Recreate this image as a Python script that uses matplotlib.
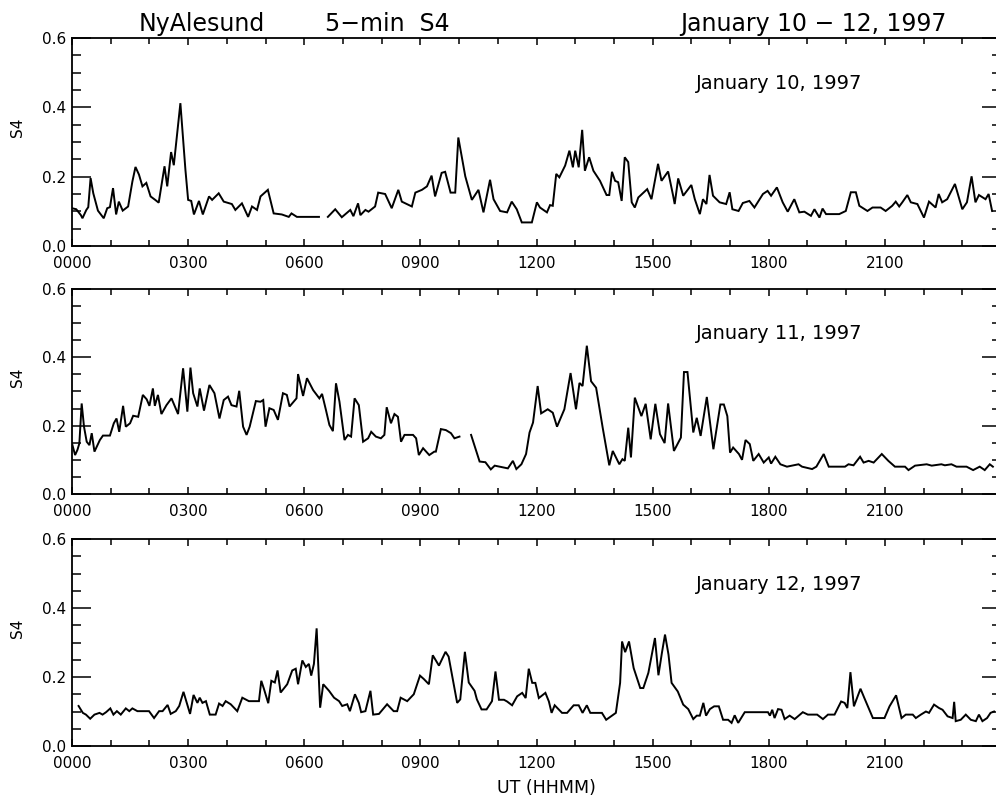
import numpy as np
import matplotlib
matplotlib.use('Agg')
import matplotlib.pyplot as plt
from matplotlib.ticker import MultipleLocator, FixedLocator

plt.rcParams['font.family'] = ['DejaVu Sans']

# UT hours and S4 values for each day (nan marks a data gap)
jan10_hours = [0.00, 0.11, 0.23, 0.27, 0.37, 0.42, 0.48, 0.55, 0.67, 0.82, 0.91, 0.98, 1.06, 1.14, 1.21, 1.31,
               1.45, 1.56, 1.64, 1.73, 1.82, 1.92, 2.03, 2.15, 2.24, 2.39, 2.46, 2.56, 2.63, 2.80, 2.93, 3.00,
               3.08, 3.15, 3.28, 3.38, 3.54, 3.62, 3.79, 3.92, 4.13, 4.22, 4.39, 4.55, 4.65, 4.78, 4.87, 5.06,
               5.21, 5.42, 5.60, 5.67, 5.81, 6.38, 6.50,
               6.61, 6.80, 6.97, 7.19, 7.27, 7.39, 7.45, 7.58, 7.66, 7.83, 7.91, 8.09, 8.26, 8.43, 8.52, 8.78,
               8.87, 9.04, 9.17, 9.29, 9.38, 9.55, 9.64, 9.78, 9.90, 9.98, 10.16, 10.33, 10.50, 10.63, 10.80,
               10.89, 11.06, 11.24, 11.36, 11.49, 11.62, 11.88, 12.01, 12.09, 12.27, 12.35, 12.42, 12.51, 12.59,
               12.74, 12.85, 12.94, 13.00, 13.09, 13.18, 13.25, 13.36, 13.47, 13.64, 13.81, 13.88, 13.95, 14.03,
               14.11, 14.20, 14.28, 14.37, 14.46, 14.54, 14.63, 14.86, 14.97, 15.14, 15.23, 15.40, 15.53, 15.57,
               15.66, 15.79, 16.00, 16.09, 16.22, 16.30, 16.39, 16.47, 16.56, 16.73, 16.90, 16.99, 17.06, 17.22,
               17.33, 17.50, 17.63, 17.85, 17.97, 18.06, 18.21, 18.36, 18.49, 18.66, 18.79, 18.92, 19.09, 19.18,
               19.31, 19.39, 19.48, 19.82, 19.99, 20.12, 20.25, 20.34, 20.55, 20.68, 20.89, 21.02, 21.19, 21.28,
               21.37, 21.45, 21.58, 21.67, 21.84, 22.01, 22.14, 22.31, 22.39, 22.48, 22.61, 22.81, 23.00, 23.12,
               23.24, 23.34, 23.43, 23.60, 23.68, 23.77]
jan10_s4 = [.109, .106, .089, .080, .104, .112, .196, .152, .102, .080, .109, .112, .167, .091, .128, .102,
            .114, .186, .228, .206, .172, .182, .143, .133, .125, .230, .172, .271, .233, .412, .220, .133,
            .130, .091, .130, .091, .143, .133, .152, .128, .121, .104, .123, .084, .114, .104, .143, .162,
            .094, .091, .084, .094, .084, .084, np.nan,
            .084, .106, .083, .104, .086, .123, .089, .104, .099, .114, .154, .150, .109, .162, .128, .114,
            .154, .162, .172, .203, .143, .211, .214, .154, .154, .313, .201, .133, .162, .097, .191,
            .135, .101, .097, .128, .106, .068, .068, .126, .111, .097, .118, .116, .208, .198,
            .232, .275, .227, .275, .227, .335, .217, .256, .217, .188, .147, .147, .214, .188,
            .184, .130, .256, .242, .126, .111, .140, .164, .135, .237, .188, .215, .145, .121,
            .195, .145, .176, .135, .092, .135, .121, .205, .145, .126, .121, .155, .106, .101,
            .124, .130, .111, .150, .159, .145, .169, .126, .099, .135, .097, .099, .087, .106,
            .082, .108, .092, .092, .101, .155, .155, .116, .101, .111, .111, .101, .116, .128,
            .114, .126, .147, .126, .121, .082, .128, .111, .150, .126, .135, .179, .106, .126,
            .201, .126, .147, .135, .150, .101]

jan11_hours = [0.00, 0.08, 0.14, 0.19, 0.25, 0.31, 0.38, 0.45, 0.51, 0.58, 0.72, 0.80, 0.98, 1.08, 1.15, 1.22,
               1.32, 1.39, 1.50, 1.58, 1.71, 1.83, 1.93, 2.00, 2.09, 2.14, 2.22, 2.31, 2.44, 2.57, 2.74, 2.87,
               2.98, 3.06, 3.13, 3.24, 3.30, 3.41, 3.55, 3.68, 3.81, 3.92, 4.03, 4.12, 4.25, 4.32, 4.42, 4.51,
               4.59, 4.75, 4.87, 4.94, 5.00, 5.10, 5.21, 5.32, 5.45, 5.55, 5.62, 5.80, 5.84, 5.97, 6.07, 6.23,
               6.39, 6.46, 6.56, 6.65, 6.74, 6.82, 6.91, 7.04, 7.13, 7.21, 7.30, 7.41, 7.52, 7.65, 7.73, 7.85,
               7.98, 8.07, 8.13, 8.24, 8.33, 8.42, 8.50, 8.59, 8.81, 8.89, 8.96, 9.07, 9.23, 9.36, 9.40, 9.53,
               9.66, 9.79, 9.88, 10.01, 10.15,
               10.31, 10.53, 10.68, 10.82, 10.92, 11.26, 11.39, 11.48, 11.61, 11.73, 11.82, 11.91, 12.03, 12.12,
               12.29, 12.42, 12.53, 12.72, 12.88, 13.02, 13.11, 13.19, 13.30, 13.41, 13.54, 13.71, 13.88, 13.97,
               14.14, 14.22, 14.28, 14.37, 14.44, 14.54, 14.71, 14.82, 14.95, 15.07, 15.19, 15.31, 15.40, 15.55,
               15.73, 15.81, 15.90, 16.05, 16.14, 16.24, 16.40, 16.57, 16.75, 16.84, 16.93, 17.00, 17.08, 17.23,
               17.31, 17.40, 17.51, 17.60, 17.74, 17.87, 18.00, 18.06, 18.17, 18.30, 18.47, 18.77, 18.86, 19.12,
               19.23, 19.42, 19.55, 19.97, 20.06, 20.19, 20.36, 20.45, 20.58, 20.71, 20.92, 21.09, 21.26, 21.52,
               21.61, 21.78, 22.08, 22.21, 22.46, 22.55, 22.72, 22.85, 23.11, 23.28, 23.45, 23.58, 23.71, 23.79]
jan11_s4 = [.148, .114, .129, .148, .265, .197, .153, .143, .178, .124, .158, .171, .171, .207, .221, .182,
            .258, .197, .207, .229, .226, .290, .277, .258, .309, .258, .290, .234, .260, .280, .234, .368,
            .241, .370, .295, .256, .309, .244, .319, .295, .221, .275, .285, .260, .256, .302, .197, .173,
            .197, .272, .270, .275, .197, .251, .246, .217, .295, .290, .256, .280, .351, .287, .339, .304,
            .280, .293, .246, .202, .184, .324, .270, .158, .173, .168, .280, .260, .153, .163, .182, .168,
            .163, .173, .254, .207, .234, .226, .153, .173, .173, .163, .114, .134, .114, .124, .124, .190,
            .187, .178, .163, .168, np.nan,
            .173, .095, .093, .072, .083, .075, .097, .073, .087, .117, .180, .209, .316, .236,
            .248, .238, .197, .248, .354, .248, .325, .316, .434, .330, .311, .194, .084, .126,
            .087, .102, .097, .194, .107, .282, .228, .264, .160, .264, .175, .149, .265, .126,
            .165, .357, .357, .180, .223, .170, .284, .131, .262, .262, .228, .121, .136, .117,
            .100, .158, .146, .097, .117, .092, .107, .089, .109, .087, .080, .087, .080, .073,
            .080, .117, .080, .080, .087, .084, .109, .092, .097, .092, .117, .097, .080, .080,
            .070, .083, .087, .083, .087, .084, .087, .080, .080, .070, .080, .070, .087, .080]

jan12_hours = [0.17, 0.28, 0.36, 0.47, 0.58, 0.71, 0.79, 0.88, 0.99, 1.07, 1.16, 1.26, 1.39, 1.48, 1.56, 1.69,
               1.82, 1.99, 2.12, 2.25, 2.34, 2.47, 2.55, 2.68, 2.77, 2.88, 3.05, 3.14, 3.24, 3.30, 3.37, 3.46,
               3.56, 3.71, 3.80, 3.89, 3.97, 4.10, 4.27, 4.40, 4.57, 4.83, 4.89, 4.96, 5.07, 5.15, 5.24, 5.31,
               5.39, 5.56, 5.69, 5.78, 5.84, 5.95, 6.04, 6.12, 6.18, 6.25, 6.32, 6.41, 6.49, 6.64, 6.77, 6.90,
               6.98, 7.11, 7.18, 7.31, 7.41, 7.47, 7.58, 7.71, 7.78, 7.93, 8.14, 8.31, 8.40, 8.49, 8.66, 8.83,
               8.99, 9.09, 9.22, 9.32, 9.48, 9.65, 9.73, 9.95, 10.03, 10.15, 10.25, 10.40, 10.46, 10.58, 10.71,
               10.85, 10.94, 11.03, 11.16, 11.24, 11.37, 11.50, 11.63, 11.72, 11.80, 11.89, 11.97, 12.06, 12.23,
               12.32, 12.39, 12.47, 12.66, 12.79, 12.96, 13.09, 13.19, 13.30, 13.39, 13.69, 13.80, 13.95, 14.05,
               14.16, 14.21, 14.29, 14.39, 14.51, 14.68, 14.76, 14.89, 15.02, 15.06, 15.15, 15.24, 15.32, 15.41,
               15.49, 15.65, 15.79, 15.92, 16.05, 16.14, 16.22, 16.31, 16.38, 16.48, 16.59, 16.71, 16.82, 16.95,
               17.04, 17.12, 17.21, 17.38, 17.98, 18.03, 18.09, 18.15, 18.24, 18.33, 18.41, 18.54, 18.67, 18.88,
               19.01, 19.25, 19.40, 19.53, 19.70, 19.87, 19.96, 20.03, 20.11, 20.20, 20.37, 20.47, 20.69, 20.99,
               21.12, 21.29, 21.43, 21.54, 21.72, 21.80, 21.93, 22.06, 22.14, 22.27, 22.40, 22.49, 22.62, 22.75,
               22.79, 22.83, 22.96, 23.09, 23.22, 23.35, 23.43, 23.52, 23.64, 23.73, 23.82]
jan12_s4 = [.116, .096, .091, .079, .091, .096, .091, .098, .109, .091, .101, .091, .109, .101, .109, .101,
            .101, .101, .081, .101, .101, .119, .093, .101, .116, .157, .093, .148, .125, .140, .125, .130,
            .091, .091, .123, .116, .130, .121, .101, .140, .130, .130, .189, .165, .124, .189, .184, .219,
            .155, .179, .219, .224, .179, .248, .229, .238, .204, .238, .341, .111, .179, .160, .140, .130,
            .116, .121, .101, .150, .125, .098, .101, .160, .091, .093, .121, .101, .101, .140, .130, .150,
            .204, .194, .179, .263, .233, .273, .259, .125, .135, .273, .184, .160, .135, .106, .106,
            .130, .216, .134, .134, .129, .118, .144, .154, .139, .224, .183, .183, .139, .154,
            .129, .096, .118, .096, .096, .118, .118, .096, .118, .096, .096, .076, .088, .096,
            .183, .303, .272, .303, .226, .168, .168, .212, .289, .313, .205, .270, .323, .265,
            .183, .158, .120, .107, .078, .088, .088, .125, .088, .107, .115, .115, .076, .076,
            .067, .089, .067, .098, .098, .088, .105, .081, .107, .105, .078, .088, .078, .098,
            .091, .091, .078, .091, .091, .129, .125, .110, .214, .115, .166, .139, .081, .081,
            .115, .147, .081, .091, .091, .081, .091, .100, .096, .120, .110, .105, .086, .081,
            .128, .072, .076, .091, .076, .072, .091, .072, .081, .096, .100]

days = ['January 10, 1997', 'January 11, 1997', 'January 12, 1997']
hour_ticks = [0, 3, 6, 9, 12, 15, 18, 21]
hour_labels = ['0000', '0300', '0600', '0900', '1200', '1500', '1800', '2100']
s4_ticks = [0.0, 0.2, 0.4, 0.6]
s4_labels = ['0.0', '0.2', '0.4', '0.6']

W, H = 996, 801
fig = plt.figure(figsize=(W / 100, H / 100), dpi=100)

# panel boxes in pixels: left, top, right, bottom
boxes = [(72, 38, 1001, 246), (72, 289, 1001, 494), (72, 539, 1001, 746)]
series = [(jan10_hours, jan10_s4), (jan11_hours, jan11_s4), (jan12_hours, jan12_s4)]

for (l, t, r, b), (hrs, s4), day in zip(boxes, series, days):
    ax = fig.add_axes([l / W, 1 - b / H, (r - l) / W, (b - t) / H])
    ax.plot(hrs, s4, color='black', lw=1.4, solid_joinstyle='miter')
    ax.set_xlim(0, 24)
    ax.set_ylim(0, 0.6)
    ax.xaxis.set_major_locator(FixedLocator(hour_ticks))
    ax.set_xticklabels(hour_labels)
    ax.xaxis.set_minor_locator(MultipleLocator(1))
    ax.yaxis.set_major_locator(FixedLocator(s4_ticks))
    ax.set_yticklabels(s4_labels)
    ax.yaxis.set_minor_locator(MultipleLocator(0.05))
    ax.tick_params(axis='x', which='major', direction='in', top=True, length=5, width=1.1,
                   labelsize=11, pad=7)
    ax.tick_params(axis='x', which='minor', direction='in', top=True, length=4, width=1.1)
    ax.tick_params(axis='y', which='major', direction='in', right=True, length=13.5, width=1.1,
                   labelsize=11, pad=4)
    ax.tick_params(axis='y', which='minor', direction='in', right=True, length=6.5, width=1.1)
    for sp in ax.spines.values():
        sp.set_linewidth(1.3)
    ax.set_ylabel('S4', fontsize=11)
    ax.yaxis.set_label_coords(-0.0506, 0.57)
    ax.text(0.761, 0.755, day, transform=ax.transAxes, ha='center', va='baseline', fontsize=14)

fig.text(202 / W, 1 - 31 / H, 'NyAlesund', ha='center', va='baseline', fontsize=17)
fig.text(387 / W, 1 - 31 / H, '5\u2212min  S4', ha='center', va='baseline', fontsize=17)
fig.text(813 / W, 1 - 31 / H, 'January 10 \u2212 12, 1997', ha='center', va='baseline', fontsize=17)
fig.text(546 / W, 1 - 788 / H, 'UT (HHMM)', ha='center', va='center', fontsize=12.5)

fig.savefig('out.png', dpi=100)
